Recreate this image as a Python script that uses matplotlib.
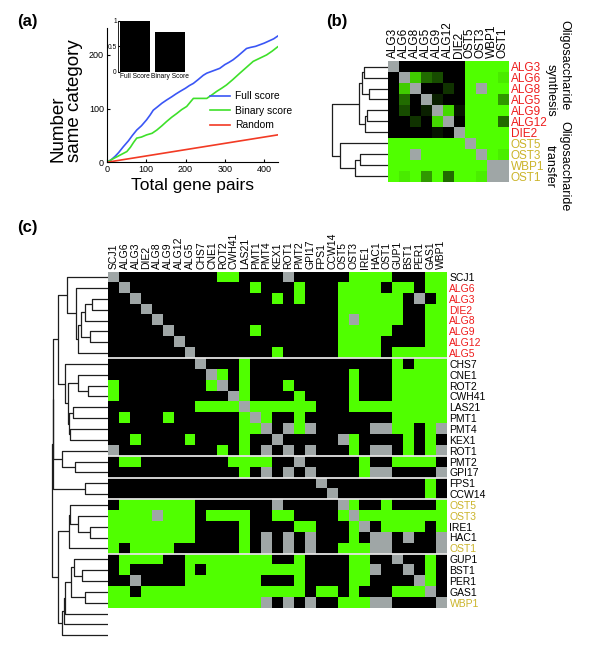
import numpy as np
import matplotlib
matplotlib.use('Agg')
import matplotlib.pyplot as plt
from matplotlib.colors import ListedColormap, LinearSegmentedColormap

plt.rcParams['font.family'] = ['Liberation Sans', 'DejaVu Sans']

# ---------------- panel (a) data ----------------
full_x = [0, 10, 21, 30, 42, 55, 65, 76, 88, 101, 110, 118, 130, 140, 152, 165, 175, 186, 200, 210,
          220, 232, 245, 254, 265, 276, 287, 300, 310, 321, 333, 344, 355, 365, 378, 389, 400, 412, 424, 434]
full_y = [0, 4, 11, 18, 29, 40, 50, 60, 68, 79, 88, 97, 104, 110, 116, 122, 127, 132, 138, 143,
          147, 154, 162, 166, 169, 172, 175, 182, 186, 191, 198, 205, 212, 214, 216, 219, 222, 226, 230, 235]
binary_x = [0, 12, 25, 38, 51, 60, 68, 76, 88, 101, 115, 127, 140, 152, 165, 178, 190, 203, 212, 220,
            235, 254, 266, 279, 292, 304, 320, 338, 355, 372, 389, 406, 420, 434]
binary_y = [0, 5, 10, 15, 20, 28, 37, 45, 47, 51, 54, 60, 68, 76, 84, 91, 98, 104, 112, 119,
            119, 119, 125, 132, 138, 144, 154, 166, 177, 188, 194, 200, 207, 215]
random_x = [0, 434]
random_y = [0, 51]

inset_labels = ['Full Score', 'Binary Score']
inset_values = [1.0, 0.78]

# ---------------- panel (b) data ----------------
b_genes = ['ALG3', 'ALG6', 'ALG8', 'ALG5', 'ALG9', 'ALG12', 'DIE2', 'OST5', 'OST3', 'WBP1', 'OST1']
nan = np.nan
b_scores = [
    [nan, 0, 0, 0, 0, 0, 0, 1, 1, 1, 1],
    [0, nan, 0.8, 0.42, 0.3, 0, 0, 1, 1, 1, 0.92],
    [0, 0.8, nan, 0, 0, 0.2, 0, 1, nan, 1, 1],
    [0, 0.42, 0, nan, 0.13, 0, 0, 1, 1, 1, 0.6],
    [0, 0.3, 0, 0.13, nan, 0.85, 0.08, 1, 1, 1, 1],
    [0, 0, 0.2, 0, 0.85, nan, 0, 1, 1, 1, 0.42],
    [0, 0, 0, 0, 0.08, 0, nan, 1, 1, 1, 1],
    [1, 1, 1, 1, 1, 1, 1, nan, 1, 1, 1],
    [1, 1, nan, 1, 1, 1, 1, 1, nan, 1, 0.93],
    [1, 1, 1, 1, 1, 1, 1, 1, 1, nan, nan],
    [1, 0.92, 1, 0.6, 1, 0.42, 1, 1, 0.93, nan, nan],
]
# (cluster, child, child, height)
b_merges = [
    ('a', 0, 1, 0.42), ('b', 2, 3, 0.33), ('c', 'a', 'b', 0.46),
    ('d', 4, 5, 0.375), ('e', 'd', 6, 0.405), ('f', 'c', 'e', 0.52),
    ('g', 8, 9, 0.49), ('h', 'g', 10, 0.58), ('i', 7, 'h', 0.85),
    ('root', 'f', 'i', 1.0),
]

# ---------------- panel (c) data ----------------
c_genes = ['SCJ1', 'ALG6', 'ALG3', 'DIE2', 'ALG8', 'ALG9', 'ALG12', 'ALG5', 'CHS7', 'CNE1', 'ROT2',
           'CWH41', 'LAS21', 'PMT1', 'PMT4', 'KEX1', 'ROT1', 'PMT2', 'GPI17', 'FPS1', 'CCW14',
           'OST5', 'OST3', 'IRE1', 'HAC1', 'OST1', 'GUP1', 'BST1', 'PER1', 'GAS1', 'WBP1']
synthesis = ['ALG6', 'ALG3', 'DIE2', 'ALG8', 'ALG9', 'ALG12', 'ALG5']
transfer = ['OST5', 'OST3', 'OST1', 'WBP1']

# columns scored "same" (green) and missing (gray) for each row; rest is black
c_same = [
    [10, 11, 22, 23, 24, 25, 29, 30],
    [13, 17, 21, 22, 23, 24, 26, 27, 29, 30],
    [15, 17, 21, 22, 23, 24, 25, 26, 30],
    [21, 22, 23, 24, 25, 26, 29, 30],
    [21, 23, 24, 25, 26, 29, 30],
    [13, 21, 22, 23, 24, 25, 29, 30],
    [21, 22, 23, 24, 29, 30],
    [15, 21, 22, 23, 24, 26, 27, 28, 29, 30],
    [12, 26, 28, 29, 30],
    [10, 12, 22, 26, 27, 28, 29, 30],
    [0, 9, 12, 16, 22, 26, 27, 28, 29, 30],
    [0, 12, 17, 22, 26, 27, 28, 29, 30],
    [8, 9, 10, 11, 13, 14, 15, 16, 17, 18, 22, 23, 24, 25, 26, 27, 28, 29, 30],
    [1, 5, 12, 14, 17, 26, 27, 28, 29, 30],
    [12, 13, 17, 26, 27, 29],
    [2, 7, 12, 22, 27, 29],
    [10, 12, 22, 27, 29],
    [1, 2, 11, 12, 13, 14, 23, 26, 27, 28, 29],
    [12, 23],
    [29],
    [29],
    [1, 2, 3, 4, 5, 6, 7, 22, 25, 30],
    [0, 1, 2, 3, 5, 6, 7, 9, 10, 11, 12, 15, 16, 21, 23, 24, 25, 26, 27, 28, 29, 30],
    [0, 1, 2, 3, 4, 5, 6, 7, 12, 17, 18, 22, 25, 26, 27, 28, 30],
    [0, 1, 2, 3, 4, 5, 6, 7, 12, 22],
    [0, 2, 3, 4, 5, 12, 21, 22, 23],
    [1, 2, 3, 4, 7, 8, 9, 10, 11, 12, 13, 14, 17, 22, 23, 29],
    [1, 7, 9, 10, 11, 12, 13, 14, 15, 16, 17, 22, 23, 29],
    [7, 8, 9, 10, 11, 12, 13, 17, 22, 23, 29],
    [0, 1, 3, 4, 5, 6, 7, 8, 9, 10, 11, 12, 13, 14, 15, 16, 17, 19, 20, 22, 26, 27, 28],
    [0, 1, 2, 3, 4, 5, 6, 7, 8, 9, 10, 11, 12, 13, 21, 22, 23],
]
c_missing = [
    [0, 16], [1], [2, 28], [3], [4, 22], [5], [6], [7], [8], [9], [10], [11], [12], [13],
    [14, 16, 18, 24, 25, 30], [15, 21], [0, 14, 16, 18, 24, 25, 30], [17],
    [14, 16, 18, 24, 25, 30], [19], [20], [15, 21], [4, 22], [23],
    [14, 16, 18, 24, 25, 27, 30], [14, 16, 18, 24, 25, 30], [26], [24, 27], [2, 28], [29],
    [14, 16, 18, 24, 25, 30],
]
c_group_breaks = [8, 17, 19, 21, 26]
n_extra_leaves = 3  # leaves of the tree with no row shown
c_merges = [
    ('g1a', 2, 3, 0.27), ('g1b', 'g1a', 4, 0.38), ('g1c', 5, 6, 0.31),
    ('g1d', 'g1b', 'g1c', 0.45), ('g1e', 'g1d', 7, 0.51), ('g1f', 1, 'g1e', 0.53),
    ('g1', 0, 'g1f', 0.69),
    ('g2a', 10, 11, 0.34), ('g2b', 9, 'g2a', 0.51), ('g2c', 12, 13, 0.59),
    ('g2d', 14, 15, 0.63), ('g2e', 'g2c', 'g2d', 0.655), ('g2f', 'g2b', 'g2e', 0.67),
    ('g2', 8, 'g2f', 0.72), ('g12', 'g1', 'g2', 0.84),
    ('g3a', 17, 18, 0.55), ('g3', 16, 'g3a', 0.77), ('g123', 'g12', 'g3', 0.92),
    ('g4', 19, 20, 0.38), ('g1234', 'g123', 'g4', 0.925),
    ('g5a', 23, 24, 0.30), ('g5b', 22, 'g5a', 0.50), ('g5c', 21, 'g5b', 0.63),
    ('g5', 'g5c', 25, 0.66),
    ('g6a', 27, 28, 0.44), ('g6b', 26, 'g6a', 0.57), ('g6c', 29, 30, 0.38),
    ('g6d', 'g6b', 'g6c', 0.62), ('g6e', 'g6d', 31, 0.72), ('g6f', 'g6e', 32, 0.74),
    ('g6', 'g6f', 33, 0.77), ('g56', 'g5', 'g6', 0.83),
    ('root', 'g1234', 'g56', 0.93),
]

GREEN = '#50ff00'
GRAY = '#9fa6a6'
RED = '#ee1c1c'
YELLOW = '#cbb42a'


def draw_tree(ax, merges, n_leaves):
    pos = {i: i + 0.5 for i in range(n_leaves)}
    hgt = {i: 0.0 for i in range(n_leaves)}
    for name, a, b, h in merges:
        ax.plot([hgt[a], h, h, hgt[b]], [pos[a], pos[a], pos[b], pos[b]],
                color='#1e1e1e', lw=0.9, solid_capstyle='butt')
        pos[name] = (pos[a] + pos[b]) / 2.0
        hgt[name] = h
    ax.set_axis_off()


def gene_color(g):
    if g in synthesis:
        return RED
    if g in transfer:
        return YELLOW
    return 'black'


fig = plt.figure(figsize=(6, 6.61), dpi=100)

# ---------------- (a) ----------------
ax = fig.add_axes([0.178, 0.7545, 0.286, 0.203])
ax.plot(full_x, full_y, color='#3a56f5', lw=1.2, label='Full score')
ax.plot(binary_x, binary_y, color='#3ee02a', lw=1.2, label='Binary score')
ax.plot(random_x, random_y, color='#f23a24', lw=1.2, label='Random')
ax.set_xlim(0, 436)
ax.set_ylim(0, 250)
ax.set_xticks([0, 100, 200, 300, 400])
ax.set_yticks([0, 100, 200])
ax.tick_params(labelsize=6.5, direction='in', length=2.5, pad=2)
ax.spines['top'].set_visible(False)
ax.spines['right'].set_visible(False)
ax.set_xlabel('Total gene pairs', fontsize=12.5, labelpad=3)
ax.set_ylabel('Number\nsame category', fontsize=13.5, loc='bottom', labelpad=4,
              multialignment='left', linespacing=1.0)
ax.legend(loc='upper left', bbox_to_anchor=(0.6, 0.53), frameon=False, fontsize=7.4,
          handlelength=2.0, handletextpad=0.5, labelspacing=0.45, borderaxespad=0, borderpad=0)

ins = fig.add_axes([0.197, 0.8915, 0.115, 0.0772])
ins.bar(range(len(inset_values)), inset_values, width=0.85, color='black')
ins.set_xlim(-0.48, 1.48)
ins.set_ylim(0, 1)
ins.set_yticks([0, 0.5, 1])
ins.set_yticklabels(['0', '0.5', '1'])
ins.set_xticks(range(len(inset_labels)))
ins.set_xticklabels(inset_labels)
ins.tick_params(labelsize=4.8, length=1.5, pad=1, direction='in')
ins.tick_params(axis='x', length=0)
for s in ['top', 'right', 'bottom']:
    ins.spines[s].set_visible(False)
ins.spines['left'].set_linewidth(0.6)

# ---------------- (b) ----------------
bh = fig.add_axes([0.646, 0.725, 0.201, 0.1826])
cmap_b = LinearSegmentedColormap.from_list('kg', ['black', GREEN])
cmap_b.set_bad(GRAY)
bh.imshow(np.ma.masked_invalid(np.array(b_scores)), cmap=cmap_b, vmin=0, vmax=1,
          aspect='auto', interpolation='nearest', extent=(0, 11, 11, 0))
bh.set_xticks(np.arange(11) + 0.5)
bh.set_xticklabels(b_genes, rotation=90, fontsize=8.5)
bh.xaxis.tick_top()
bh.set_yticks(np.arange(11) + 0.5)
bh.set_yticklabels(b_genes, fontsize=8.5)
bh.yaxis.tick_right()
bh.tick_params(length=0, pad=2)
for lab in bh.get_yticklabels():
    lab.set_color(gene_color(lab.get_text()))
for s in bh.spines.values():
    s.set_visible(False)

bt = fig.add_axes([0.549, 0.725, 0.097, 0.1826])
draw_tree(bt, b_merges, 11)
bt.set_xlim(1.04, 0)
bt.set_ylim(11, 0)

fig.text(0.94, 0.902, 'Oligosaccharide', rotation=270, fontsize=9, ha='center', va='center')
fig.text(0.917, 0.864, 'synthesis', rotation=270, fontsize=9, ha='center', va='center')
fig.text(0.94, 0.748, 'Oligosaccharide', rotation=270, fontsize=9, ha='center', va='center')
fig.text(0.917, 0.748, 'transfer', rotation=270, fontsize=9, ha='center', va='center')

# ---------------- (c) ----------------
n = len(c_genes)
calls = np.zeros((n, n))
for r in range(n):
    calls[r, c_same[r]] = 1
    calls[r, c_missing[r]] = 2

ch = fig.add_axes([0.1805, 0.0802, 0.564, 0.5088])
ch.imshow(calls, cmap=ListedColormap(['black', GREEN, GRAY]), vmin=0, vmax=2,
          aspect='auto', interpolation='nearest', extent=(0, n, n, 0))
for yb in c_group_breaks:
    ch.axhline(yb, color='#e4e4e4', lw=1.3)
ch.set_xticks(np.arange(n) + 0.5)
ch.set_xticklabels(c_genes, rotation=90, fontsize=7.5)
ch.xaxis.tick_top()
ch.set_yticks(np.arange(n) + 0.5)
ch.set_yticklabels(c_genes, fontsize=7.5)
ch.yaxis.tick_right()
ch.tick_params(length=0, pad=2)
for lab in ch.get_yticklabels():
    lab.set_color(gene_color(lab.get_text()))
for s in ch.spines.values():
    s.set_visible(False)

ct = fig.add_axes([0.08, 0.0242, 0.1005, 0.5648])
draw_tree(ct, c_merges, n + n_extra_leaves)
ct.set_xlim(1.0, 0)
ct.set_ylim((608 - 271.7 + 36.7) / 10.85 + 0.02, 0)

fig.text(0.028, 0.968, '(a)', fontsize=12, weight='bold', va='center')
fig.text(0.544, 0.967, '(b)', fontsize=12, weight='bold', va='center')
fig.text(0.028, 0.656, '(c)', fontsize=12, weight='bold', va='center')

fig.savefig('out.png', dpi=100)
